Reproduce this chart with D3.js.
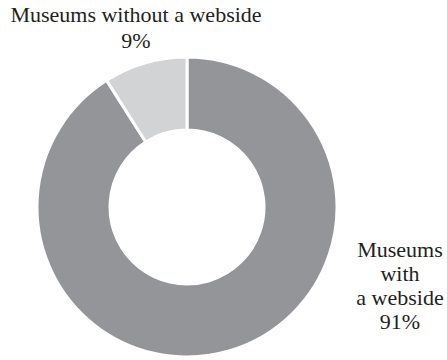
<!DOCTYPE html>
<html>
<head>
<meta charset="utf-8">
<script src="https://cdn.jsdelivr.net/npm/d3@7"></script>
<style>
  body { margin: 0; background: #fff; }
  svg { display: block; }
</style>
</head>
<body>
<script>
// data
const categories = ["Museums with a webside", "Museums without a webside"];
const shares = [91, 9];
const colors = ["#939598", "#d1d3d4"];

const width = 447, height = 360;
const cx = 187, cy = 207;
const outerR = 150, innerR = 77;

const svg = d3.select("body").append("svg")
  .attr("width", width)
  .attr("height", height)
  .style("font-family", "'Liberation Serif', serif");

const pie = d3.pie().sort(null).value(d => d.value);
// start at 12 o'clock going clockwise, big slice first
const arcs = pie(categories.map((c, i) => ({ name: c, value: shares[i], color: colors[i] })));

const arc = d3.arc().innerRadius(innerR).outerRadius(outerR);

const g = svg.append("g").attr("transform", `translate(${cx},${cy})`);
g.selectAll("path")
  .data(arcs)
  .join("path")
  .attr("d", arc)
  .attr("fill", d => d.data.color)
  .attr("stroke", "#fff")
  .attr("stroke-width", 3)
  .attr("stroke-linejoin", "miter");

// labels
const small = svg.append("text")
  .attr("text-anchor", "middle")
  .attr("font-size", 22)
  .attr("fill", "#231f20");
small.append("tspan").attr("x", 136).attr("y", 22).text("Museums without a webside");
small.append("tspan").attr("x", 136).attr("y", 48).text(shares[1] + "%");

const big = svg.append("text")
  .attr("text-anchor", "middle")
  .attr("font-size", 22)
  .attr("fill", "#231f20");
["Museums", "with", "a webside", shares[0] + "%"].forEach((t, i) => {
  big.append("tspan").attr("x", 400).attr("y", 257 + i * 24).text(t);
});
</script>
</body>
</html>
